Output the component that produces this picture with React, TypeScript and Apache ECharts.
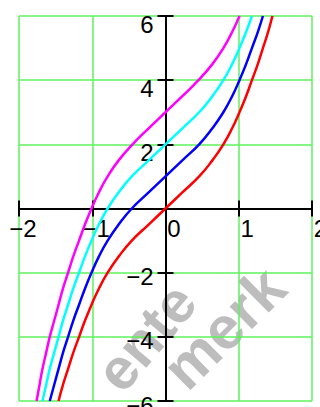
import React, { useEffect, useRef } from 'react';
import * as echarts from 'echarts';

// y levels at which each curve's x position is sampled (every half unit)
const yLevels = [
  -6, -5.5, -5, -4.5, -4, -3.5, -3, -2.5, -2, -1.5, -1, -0.5, 0,
  0.5, 1, 1.5, 2, 2.5, 3, 3.5, 4, 4.5, 5, 5.5, 6,
];

// x position of each curve at the y levels above
const redX = [
  -1.46, -1.4, -1.33, -1.26, -1.18, -1.1, -1.01, -0.91, -0.79, -0.64, -0.46, -0.23, 0,
  0.23, 0.46, 0.64, 0.79, 0.91, 1.01, 1.1, 1.18, 1.26, 1.33, 1.4, 1.46,
];
const blueX = [
  -1.58, -1.52, -1.46, -1.4, -1.33, -1.26, -1.18, -1.1, -1.01, -0.91, -0.79, -0.64, -0.46,
  -0.23, 0, 0.23, 0.46, 0.64, 0.79, 0.91, 1.01, 1.1, 1.18, 1.26, 1.33,
];
const cyanX = [
  -1.68, -1.63, -1.58, -1.52, -1.46, -1.4, -1.33, -1.26, -1.18, -1.1, -1.01, -0.91, -0.79,
  -0.64, -0.46, -0.23, 0, 0.23, 0.46, 0.64, 0.79, 0.91, 1.01, 1.1, 1.18,
];
const magentaX = [
  -1.76, -1.72, -1.68, -1.63, -1.58, -1.52, -1.46, -1.4, -1.33, -1.26, -1.18, -1.1, -1.01,
  -0.91, -0.79, -0.64, -0.45, -0.23, 0, 0.23, 0.45, 0.64, 0.79, 0.91, 1.01,
];

const xTickValues = [-2, -1, 0, 1, 2];
const xTickLabels = ['\u22122', '\u22121', '0', '1', '2'];
const yTickValues = [-6, -4, -2, 0, 2, 4, 6];
const yTickLabels = ['\u22126', '\u22124', '\u22122', '', '2', '4', '6'];

const GREEN = '#5ef25e';
const FONT = '"Liberation Sans", Arial, sans-serif';
const FONT_SIZE = 24;

// plot box in pixels
const GRID_LEFT = 19;
const GRID_TOP = 16;
const GRID_W = 293;
const GRID_H = 385;

function toPairs(xs: number[]) {
  return xs.map((x, i) => [x, yLevels[i]]);
}

function labelFor(values: number[], labels: string[], v: number) {
  const i = values.findIndex((t) => Math.abs(t - v) < 1e-9);
  return i >= 0 ? labels[i] : '';
}

export default function App() {
  const ref = useRef<HTMLDivElement>(null);

  useEffect(() => {
    if (!ref.current) return;
    const chart = echarts.init(ref.current, undefined, { renderer: 'svg' });

    const axisLineStyle = { color: '#000', width: 2 };
    const textBase = { fontFamily: FONT, fontSize: FONT_SIZE, color: '#000' };

    // both axes cross in the middle of the plot box (x = 0, y = 0)
    const xAxisOffset = -GRID_H / 2;
    const yAxisOffset = -GRID_W / 2;

    const xBase = {
      type: 'value',
      min: -2,
      max: 2,
      interval: 1,
      position: 'bottom',
      offset: xAxisOffset,
      axisLine: { onZero: false, lineStyle: axisLineStyle },
    };
    const yBase = {
      type: 'value',
      min: -6,
      max: 6,
      interval: 2,
      position: 'left',
      offset: yAxisOffset,
      axisLine: { onZero: false, lineStyle: axisLineStyle },
    };

    chart.setOption({
      animation: false,
      backgroundColor: '#fff',
      grid: {
        left: GRID_LEFT,
        top: GRID_TOP,
        width: GRID_W,
        height: GRID_H,
        containLabel: false,
        outerBoundsMode: 'none',
      },
      xAxis: [
        {
          ...xBase,
          axisTick: { show: true, inside: false, length: 8, lineStyle: axisLineStyle },
          axisLabel: {
            show: true,
            margin: 8,
            ...textBase,
            formatter: (v: number) => {
              const s = labelFor(xTickValues, xTickLabels, v);
              return v < 0 ? `{n|${s}}` : `{p|${s}}`;
            },
            rich: {
              n: { ...textBase, padding: [0, 0, 0, 8] },
              p: { ...textBase, padding: [0, 0, 0, 17] },
            },
          },
          splitLine: { show: true, lineStyle: { color: GREEN, width: 1.5 } },
        },
        {
          ...xBase,
          axisTick: { show: true, inside: true, length: 8, lineStyle: axisLineStyle },
          axisLabel: { show: false },
          splitLine: { show: false },
        },
      ],
      yAxis: [
        {
          ...yBase,
          axisTick: { show: true, inside: false, length: 8, lineStyle: axisLineStyle },
          axisLabel: {
            show: true,
            margin: 12,
            ...textBase,
            formatter: (v: number) => {
              const s = labelFor(yTickValues, yTickLabels, v);
              if (!s) return '';
              return v < 0 ? `{n|${s}}` : `{p|${s}}`;
            },
            rich: {
              n: { ...textBase, padding: [8, 0, 0, 0] },
              p: { ...textBase, padding: [16, 0, 0, 0] },
            },
          },
          splitLine: { show: true, lineStyle: { color: GREEN, width: 1.5 } },
        },
        {
          ...yBase,
          axisTick: { show: true, inside: true, length: 8, lineStyle: axisLineStyle },
          axisLabel: { show: false },
          splitLine: { show: false },
        },
      ],
      graphic: {
        elements: [
          {
            type: 'text',
            x: 146,
            y: 337,
            rotation: 0.87,
            z: -100,
            silent: true,
            style: {
              text: 'ente',
              fill: '#bdbdbd',
              fontFamily: FONT,
              fontWeight: 'bold',
              fontSize: 58,
              align: 'center',
              verticalAlign: 'middle',
            },
          },
          {
            type: 'text',
            x: 224,
            y: 328,
            rotation: 0.78,
            z: -100,
            silent: true,
            style: {
              text: 'merk',
              fill: '#bdbdbd',
              fontFamily: FONT,
              fontWeight: 'bold',
              fontSize: 60,
              align: 'center',
              verticalAlign: 'middle',
            },
          },
        ],
      },
      series: [
        { name: 'c0', color: '#ff0000', data: toPairs(redX) },
        { name: 'c1', color: '#0000ff', data: toPairs(blueX) },
        { name: 'c2', color: '#00ffff', data: toPairs(cyanX) },
        { name: 'c3', color: '#ff00ff', data: toPairs(magentaX) },
      ].map((s) => ({
        type: 'line',
        name: s.name,
        xAxisIndex: 0,
        yAxisIndex: 0,
        data: s.data,
        smooth: 0.5,
        showSymbol: false,
        clip: true,
        lineStyle: { color: s.color, width: 2.5 },
        z: 5,
      })),
    });

    return () => chart.dispose();
  }, []);

  return (
    <div
      ref={ref}
      style={{ position: 'fixed', left: 0, top: 0, width: 320, height: 407 }}
    />
  );
}
